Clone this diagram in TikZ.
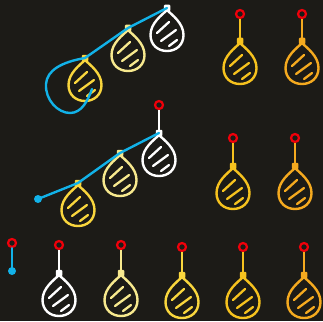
\documentclass[tikz,border=0pt]{standalone}
\begin{document}
\definecolor{bg}{HTML}{1C1B17}
\definecolor{cwhite}{HTML}{FFFFFF}
\definecolor{cpale}{HTML}{F7E98E}
\definecolor{cyellow}{HTML}{F9D63D}
\definecolor{cgold}{HTML}{F6C21E}
\definecolor{corange}{HTML}{F5AA1F}
\definecolor{cblue}{HTML}{12B2E8}
\definecolor{cred}{HTML}{F0000A}
\begin{tikzpicture}[x=1pt,y=-1pt,
  outline/.style={line width=2.4pt},
  hatch/.style={line width=2.3pt,line cap=round},
  knot/.style={rectangle,rounded corners=1pt,minimum size=6.5pt,inner sep=0pt},
  ring/.style={circle,draw=cred,line width=2.2pt,minimum size=8pt,inner sep=0pt},
  string/.style={line width=2pt},
  blueline/.style={cblue,line width=2.4pt,line cap=round},
  bluedot/.style={circle,fill=cblue,minimum size=8pt,inner sep=0pt},
  pics/balloon/.style={code={
    \draw[outline,#1] (0,2) .. controls (5,7) and (16.5,15) .. (16.5,27)
      .. controls (16.5,37) and (9,43) .. (0,43)
      .. controls (-9,43) and (-16.5,37) .. (-16.5,27)
      .. controls (-16.5,15) and (-5,7) .. (0,2);
    \draw[hatch,#1] (-10,25) -- (2,14);
    \draw[hatch,#1] (-6,33) -- (9,22);
    \draw[hatch,#1] (2,38) -- (10,32);
  }}]
\fill[bg] (0,0) rectangle (323,321);
\useasboundingbox (0,0) rectangle (323,321);

% ---- top row: three balloons on a looped line ----
\pic at (85,58) {balloon=cyellow};
\pic at (128,28) {balloon=cpale};
\pic at (167,8) {balloon=cwhite};
\node[knot,fill=cyellow] (ta) at (85,58) {};
\node[knot,fill=cpale] (tb) at (128,28) {};
\node[knot,fill=cwhite] (tc) at (167,8) {};
\coordinate (tend) at (92,89);
\draw[blueline] (tc.center) -- (tb.center) -- (ta.center)
  .. controls (62,62) and (47,70) .. (46,84)
  .. controls (45,100) and (58,113) .. (70,113)
  .. controls (82,113) and (88,100) .. (tend);

% ---- top right: two hanging balloons ----
\pic at (240,41) {balloon=cgold};
\node[ring] (r1) at (240,14) {};
\node[knot,fill=cgold] (k1) at (240,41) {};
\draw[string,cgold] (r1) -- (k1);
\pic at (302,41) {balloon=corange};
\node[ring] (r2) at (302,14) {};
\node[knot,fill=corange] (k2) at (302,41) {};
\draw[string,corange] (r2) -- (k2);

% ---- middle row: balloons on a line hanging from a ring ----
\pic at (78,183) {balloon=cyellow};
\pic at (120,153) {balloon=cpale};
\pic at (159,133) {balloon=cwhite};
\node[ring] (mr) at (159,105) {};
\node[knot,fill=cyellow] (ma) at (78,183) {};
\node[knot,fill=cpale] (mb) at (120,153) {};
\node[knot,fill=cwhite] (mc) at (159,133) {};
\node[bluedot] (md) at (38,199) {};
\draw[string,cwhite] (mr) -- (mc);
\draw[blueline] (mc.center) -- (mb.center) -- (ma.center) -- (md.center);

\pic at (233,166) {balloon=cgold};
\node[ring] (r3) at (233,138) {};
\node[knot,fill=cgold] (k3) at (233,166) {};
\draw[string,cgold] (r3) -- (k3);
\pic at (295,166) {balloon=corange};
\node[ring] (r4) at (295,138) {};
\node[knot,fill=corange] (k4) at (295,166) {};
\draw[string,corange] (r4) -- (k4);

% ---- bottom row ----
\node[ring] (r5) at (12,243) {};
\node[bluedot] (d5) at (12,271) {};
\draw[blueline] (r5) -- (d5.center);

\pic at (59,273) {balloon=cwhite};
\node[ring] (r6) at (59,245) {};
\node[knot,fill=cwhite] (k6) at (59,273) {};
\draw[string,cwhite] (r6) -- (k6);

\pic at (121,273) {balloon=cpale};
\node[ring] (r7) at (121,245) {};
\node[knot,fill=cpale] (k7) at (121,273) {};
\draw[string,cpale] (r7) -- (k7);

\pic at (182,275) {balloon=cyellow};
\node[ring] (r8) at (182,247) {};
\node[knot,fill=cyellow] (k8) at (182,275) {};
\draw[string,cyellow] (r8) -- (k8);

\pic at (243,275) {balloon=cgold};
\node[ring] (r9) at (243,247) {};
\node[knot,fill=cgold] (k9) at (243,275) {};
\draw[string,cgold] (r9) -- (k9);

\pic at (304,275) {balloon=corange};
\node[ring] (r10) at (304,247) {};
\node[knot,fill=corange] (k10) at (304,275) {};
\draw[string,corange] (r10) -- (k10);
\end{tikzpicture}
\end{document}
